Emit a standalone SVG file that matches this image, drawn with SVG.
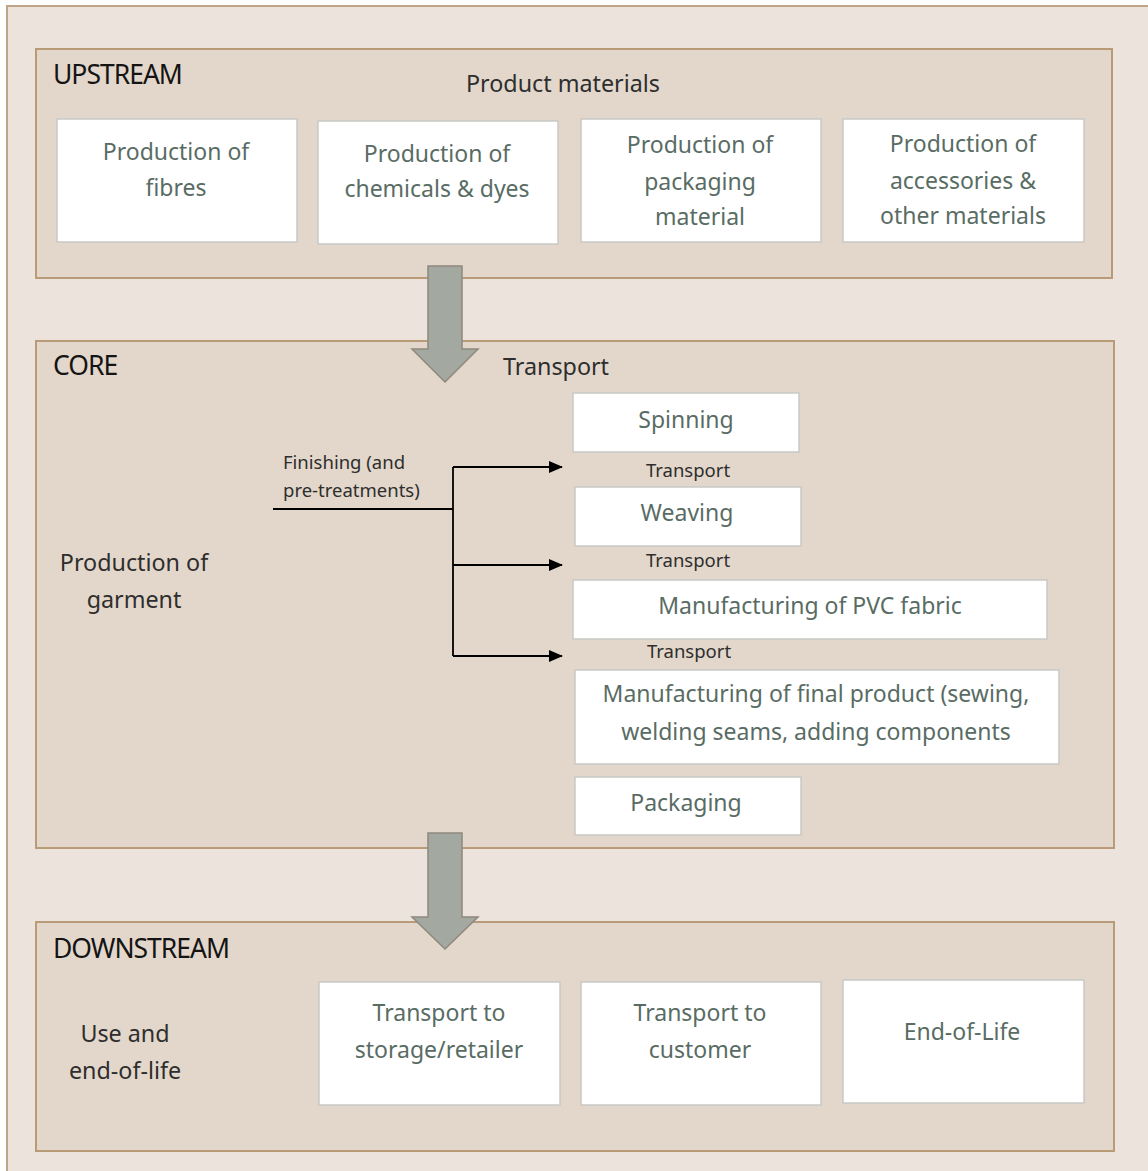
<svg xmlns="http://www.w3.org/2000/svg" width="1148" height="1171" viewBox="0 0 1148 1171">
<style>
.panel{fill:#e3d7cb;stroke:#b99b78;stroke-width:2}
.box{fill:#ffffff;stroke:#c9c9c6;stroke-width:1.5}
.bt{font-family:"Noto Sans","Open Sans",sans-serif;font-size:23px;fill:#596c64;text-anchor:middle}
.hd{font-family:"Noto Sans","Open Sans",sans-serif;font-size:26.5px;fill:#141414;letter-spacing:-1px}
.lb{font-family:"Noto Sans","Open Sans",sans-serif;font-size:23.3px;fill:#2e2e2e}
.sm{font-family:"Noto Sans","Open Sans",sans-serif;font-size:18.5px;fill:#2e2e2e}
.big{fill:#a3a9a0;stroke:#8f887d;stroke-width:1.5}
.cn{fill:none;stroke:#000;stroke-width:1.8}
</style>
<defs>
<marker id="ah" markerWidth="14" markerHeight="12" refX="13" refY="6" orient="auto" markerUnits="userSpaceOnUse">
<path d="M0,0 L14,6 L0,12 Z" fill="#000"/>
</marker>
</defs>
<rect x="7" y="6" width="1150" height="1180" fill="#ece3dd" stroke="#bfa588" stroke-width="2"/>

<g id="upstream">
<rect class="panel" x="36" y="49" width="1076" height="229"/>
<text class="hd" x="53" y="84">UPSTREAM</text>
<text class="lb" x="563" y="92" text-anchor="middle">Product materials</text>
</g>
<g id="up-fibres"><rect class="box" x="57" y="119" width="240" height="123"/>
<text class="bt" x="176" y="160">Production of</text><text class="bt" x="176" y="196">fibres</text></g>
<g id="up-chem"><rect class="box" x="318" y="121" width="240" height="123"/>
<text class="bt" x="437" y="162">Production of</text><text class="bt" x="437" y="197">chemicals &amp; dyes</text></g>
<g id="up-pack"><rect class="box" x="581" y="119" width="240" height="123"/>
<text class="bt" x="700" y="153">Production of</text><text class="bt" x="700" y="190">packaging</text><text class="bt" x="700" y="225">material</text></g>
<g id="up-acc"><rect class="box" x="843" y="119" width="241" height="123"/>
<text class="bt" x="963" y="152">Production of</text><text class="bt" x="963" y="189">accessories &amp;</text><text class="bt" x="963" y="224">other materials</text></g>

<g id="core">
<rect class="panel" x="36" y="341" width="1078" height="507"/>
<text class="hd" x="53" y="375">CORE</text>
<text class="lb" x="556" y="375" text-anchor="middle">Transport</text>
<text class="lb" x="134" y="571" text-anchor="middle">Production of</text>
<text class="lb" x="134" y="608" text-anchor="middle">garment</text>
<text class="sm" x="283" y="469">Finishing (and</text>
<text class="sm" x="283" y="497">pre-treatments)</text>
<text class="sm" x="688" y="477" text-anchor="middle">Transport</text>
<text class="sm" x="688" y="567" text-anchor="middle">Transport</text>
<text class="sm" x="689" y="658" text-anchor="middle">Transport</text>
</g>
<g id="spinning"><rect class="box" x="573" y="393" width="226" height="59"/>
<text class="bt" x="686" y="428">Spinning</text></g>
<g id="weaving"><rect class="box" x="575" y="487" width="226" height="59"/>
<text class="bt" x="687" y="521">Weaving</text></g>
<g id="pvc"><rect class="box" x="573" y="580" width="474" height="59"/>
<text class="bt" x="810" y="614">Manufacturing of PVC fabric</text></g>
<g id="final"><rect class="box" x="575" y="670" width="484" height="94"/>
<text class="bt" x="816" y="702">Manufacturing of final product (sewing,</text>
<text class="bt" x="816" y="740">welding seams, adding components</text></g>
<g id="packaging"><rect class="box" x="575" y="777" width="226" height="58"/>
<text class="bt" x="686" y="811">Packaging</text></g>

<g id="downstream">
<rect class="panel" x="36" y="922" width="1078" height="229"/>
<text class="hd" x="53" y="958">DOWNSTREAM</text>
<text class="lb" x="125" y="1042" text-anchor="middle">Use and</text>
<text class="lb" x="125" y="1079" text-anchor="middle">end-of-life</text>
</g>
<g id="down-storage"><rect class="box" x="319" y="982" width="241" height="123"/>
<text class="bt" x="439" y="1021">Transport to</text><text class="bt" x="439" y="1058">storage/retailer</text></g>
<g id="down-customer"><rect class="box" x="581" y="982" width="240" height="123"/>
<text class="bt" x="700" y="1021">Transport to</text><text class="bt" x="700" y="1058">customer</text></g>
<g id="down-eol"><rect class="box" x="843" y="980" width="241" height="123"/>
<text class="bt" x="962" y="1040">End-of-Life</text></g>

<g id="connectors">
<path class="big" d="M428,266 H462 V349 H478 L445,382 L412,349 H428 Z"/>
<path class="big" d="M428,833 H462 V917 H478 L445,949 L412,917 H428 Z"/>
<path class="cn" d="M273,509 H453"/>
<path class="cn" d="M453,467 V656"/>
<path class="cn" d="M453,467 H562" marker-end="url(#ah)"/>
<path class="cn" d="M453,565 H562" marker-end="url(#ah)"/>
<path class="cn" d="M453,656 H562" marker-end="url(#ah)"/>
</g>
</svg>
